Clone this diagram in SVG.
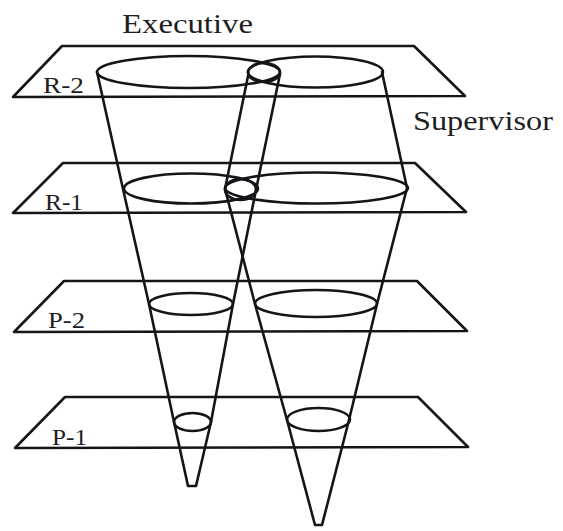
<svg xmlns="http://www.w3.org/2000/svg" width="563" height="531" viewBox="0 0 563 531">
<style>
.ln{fill:none;stroke:#151519;stroke-width:2.6;stroke-linejoin:round;stroke-linecap:round}
.lbl{font-family:"Liberation Serif","Times New Roman",serif;fill:#1e1e22;font-size:24px}
.ttl{font-family:"Liberation Serif","Times New Roman",serif;fill:#1e1e22;font-size:27px}
</style>
<rect width="563" height="531" fill="#fff"/>
<g id="plane-R2">
<polygon class="ln" points="62,46 414,46 465,96 13,97"/>
<text class="lbl" x="43" y="93" textLength="41" lengthAdjust="spacingAndGlyphs">R-2</text>
<ellipse class="ln" cx="188.5" cy="72" rx="91.5" ry="16"/>
<ellipse class="ln" cx="315.5" cy="72" rx="67.5" ry="15.5"/>
<ellipse class="ln" cx="264" cy="72.5" rx="16" ry="9.5"/>
</g>
<g id="plane-R1">
<polygon class="ln" points="63,163 415,163 466,212 13,213"/>
<text class="lbl" x="45" y="210" textLength="38" lengthAdjust="spacingAndGlyphs">R-1</text>
<ellipse class="ln" cx="191" cy="188.5" rx="67" ry="15"/>
<ellipse class="ln" cx="316.5" cy="188" rx="91.5" ry="15.5"/>
<ellipse class="ln" cx="240.5" cy="189.5" rx="15.5" ry="10.5"/>
</g>
<g id="plane-P2">
<polygon class="ln" points="64,281 417,281 467,331 14,332"/>
<text class="lbl" x="48" y="328" textLength="37" lengthAdjust="spacingAndGlyphs">P-2</text>
<ellipse class="ln" cx="191" cy="304" rx="42" ry="11"/>
<ellipse class="ln" cx="316" cy="303.5" rx="61" ry="13.5"/>
</g>
<g id="plane-P1">
<polygon class="ln" points="65,397 418,397 468,447 15,448"/>
<text class="lbl" x="52" y="445" textLength="35" lengthAdjust="spacingAndGlyphs">P-1</text>
<ellipse class="ln" cx="192.5" cy="422" rx="18.5" ry="9"/>
<ellipse class="ln" cx="318.5" cy="419.5" rx="31.5" ry="11.5"/>
</g>
<g id="cones">
<polyline class="ln" points="97,72 123,189 149,304 174,422 188,486 196,486 211,422 233,304 256,190 280,74"/>
<polyline class="ln" points="248,76 225,189 255,304 287,420 315,525 322,525 349,420 377,304 407,188 382,72"/>
</g>
<text class="ttl" x="122" y="33" textLength="131" lengthAdjust="spacingAndGlyphs">Executive</text>
<text class="ttl" x="413" y="130" textLength="140" lengthAdjust="spacingAndGlyphs">Supervisor</text>
</svg>
